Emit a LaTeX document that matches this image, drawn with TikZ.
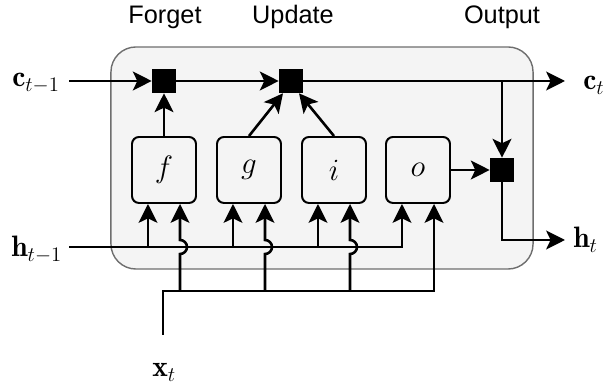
\RequirePackage{fix-cm}
\documentclass[tikz,border=0pt]{standalone}
\usepackage{fontspec}
\setsansfont{Liberation Sans}
\usetikzlibrary{arrows.meta,calc}
\definecolor{cellFill}{HTML}{F4F4F4}
\definecolor{cellEdge}{HTML}{6E6E6E}

\begin{document}
\begin{tikzpicture}[x=0.025cm,y=0.025cm,
    cellbox/.style={draw=cellEdge,fill=cellFill,line width=1pt,rounded corners=0.625cm,
                    minimum width=10.55cm,minimum height=5.55cm,inner sep=0pt},
    gate/.style={draw=black,fill=cellFill,line width=1.4pt,rounded corners=5pt,
                 minimum width=1.6cm,minimum height=1.65cm,inner sep=0pt,
                 font=\fontsize{22}{26}\selectfont},
    mult/.style={fill=black,minimum size=0.6cm,inner sep=0pt},
    lbl/.style={font=\fontsize{21}{24}\selectfont,inner sep=0pt,anchor=base west},
    head/.style={font=\sffamily\fontsize{18}{22}\selectfont,inner sep=0pt,anchor=base},
    wire/.style={line width=1.85pt},
    arr/.style={wire,-{Stealth[length=4.7mm,width=4.7mm,inset=1.1mm]}}]
  \useasboundingbox (0,0) rectangle (608,387);
  \node[cellbox] (cell) at (322,229) {};
  % gates and pointwise products
  \node[gate] (f) at (164,217) {$f$};
  \node[gate] (g) at (249,217) {$g$};
  \node[gate] (i) at (334,217) {$i$};
  \node[gate] (o) at (418,217) {$o$};
  \node[mult] (m1) at (164,306) {};
  \node[mult] (m2) at (291,306) {};
  \node[mult] (m3) at (502,217) {};
  % ends of the signal lines
  \coordinate (cin) at (69,306);
  \coordinate (cout) at (565,306);
  \coordinate (hin) at (69,140);
  \coordinate (hout) at (565,147);
  \coordinate (xin) at (163,52);
  \coordinate (xbus) at (163,96);
  \node[lbl] (cprev) at (12,300) {$\mathbf{c}_{t-1}$};
  \node[lbl] (hprev) at (11,130) {$\mathbf{h}_{t-1}$};
  \node[lbl] (cnext) at (583,297) {$\mathbf{c}_t$};
  \node[lbl] (hnext) at (573,139) {$\mathbf{h}_t$};
  \node[lbl] (xcur) at (152,10) {$\mathbf{x}_t$};
  \node[head] (tforget) at (165,363) {Forget};
  \node[head] (tupdate) at (293,363) {Update};
  \node[head] (toutput) at (502,363) {Output};
  % cell state
  \draw[arr] (cin) -- (m1);
  \draw[arr] (m1) -- (m2);
  \draw[arr] (m2) -- (cout);
  \draw[arr] (f) -- (m1);
  \draw[arr] (g.north) -- ([xshift=-0.2cm]m2.south);
  \draw[arr] (i.north) -- ([xshift=0.2cm]m2.south);
  % output
  \draw[arr] (o) -- (m3);
  \draw[arr] (m3.north |- cout) -- (m3);
  \draw[arr] (m3) |- (hout);
  % inputs
  \draw[arr] (hin) -| ([xshift=-0.4cm]o.south);
  \foreach \g in {f,g,i} {
    \draw[arr] ([xshift=-0.4cm]\g.south |- hin) -- ([xshift=-0.4cm]\g.south);
    \draw[arr] ([xshift=0.4cm]\g.south |- xbus) -- ++(0,37)
      arc[start angle=-90,end angle=90,radius=7] -- ([xshift=0.4cm]\g.south);
  }
  \draw[arr] (xin) |- ([xshift=0.4cm]o.south |- xbus) -- ([xshift=0.4cm]o.south);
\end{tikzpicture}
\end{document}
